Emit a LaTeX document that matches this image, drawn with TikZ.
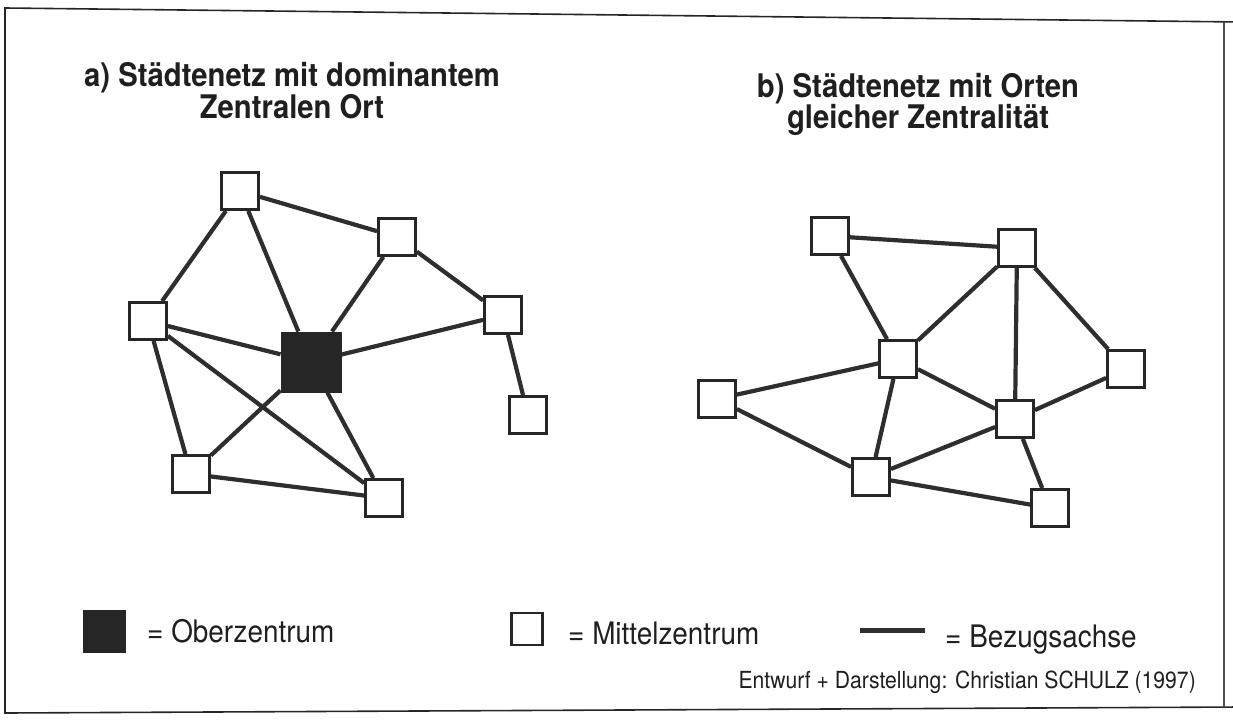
\documentclass[tikz,border=0pt]{standalone}
\usepackage{fontspec}
\setmainfont{TeX Gyre Heros}
\newfontfamily\cond[FakeStretch=0.9]{TeX Gyre Heros}
\begin{document}
\begin{tikzpicture}[x=1pt,y=-1pt,
  ort/.style={draw=black!85,line width=2.8pt,fill=white,minimum size=37pt,inner sep=0pt},
  ober/.style={draw=black!85,line width=1pt,fill=black!85,minimum size=60pt,inner sep=0pt},
  achse/.style={draw=black!82,line width=4.2pt},
  titel/.style={font=\cond\bfseries\fontsize{32.5}{36}\selectfont,anchor=base,text=black!88,inner sep=0pt},
  leg/.style={font=\cond\fontsize{31}{34}\selectfont,anchor=base west,text=black!88,inner sep=0pt}]
\useasboundingbox (0,0) rectangle (1233,720);
% frame
\coordinate (f1) at (5,8);
\coordinate (f2) at (1224,22);
\coordinate (f3) at (1224,707);
\coordinate (f4) at (5,713);
\coordinate (f2e) at (1240,22);
\coordinate (f3e) at (1240,707);
\draw[line width=1.6pt,black!85] (f2e) -- (f1) -- (f4) -- (f3e);
\draw[line width=1.2pt,black!70] (f2) -- (f3);
% titles
\node[titel] (ta1) at (292,86) {a) Städtenetz mit dominantem};
\node[titel] (ta2) at (292,118) {Zentralen Ort};
\node[titel] (tb1) at (918,97) {b) Städtenetz mit Orten};
\node[titel] (tb2) at (918,128) {gleicher Zentralität};
% left network
\node[ort] (a1) at (240,191) {};
\node[ort] (a2) at (397,237) {};
\node[ort] (a3) at (148,321) {};
\node[ober] (c) at (311,362) {};
\node[ort] (a4) at (503,315) {};
\node[ort] (a5) at (528,415) {};
\node[ort] (a6) at (191,474) {};
\node[ort] (a7) at (384,498) {};
\draw[achse] (a1) -- (a2);
\draw[achse] (a1) -- (a3);
\draw[achse] (a1) -- (c);
\draw[achse] (a2) -- (c);
\draw[achse] (a2) -- (a4);
\draw[achse] (a4) -- (c);
\draw[achse] (a4) -- (a5);
\draw[achse] (a3) -- (c);
\draw[achse] (a3) -- (a6);
\draw[achse] (a3) -- (a7);
\draw[achse] (c) -- (a6);
\draw[achse] (c) -- (a7);
\draw[achse] (a6) -- (a7);
% right network
\node[ort] (b1) at (830,236) {};
\node[ort] (b2) at (1017,248) {};
\node[ort] (b3) at (898,359) {};
\node[ort] (b4) at (1126,369) {};
\node[ort] (b5) at (717,399) {};
\node[ort] (b6) at (1015,419) {};
\node[ort] (b7) at (871,477) {};
\node[ort] (b8) at (1050,508) {};
\draw[achse] (b1) -- (b2);
\draw[achse] (b1) -- (b3);
\draw[achse] (b2) -- (b3);
\draw[achse] (b2) -- (b6);
\draw[achse] (b2) -- (b4);
\draw[achse] (b3) -- (b5);
\draw[achse] (b3) -- (b6);
\draw[achse] (b3) -- (b7);
\draw[achse] (b4) -- (b6);
\draw[achse] (b5) -- (b7);
\draw[achse] (b6) -- (b7);
\draw[achse] (b6) -- (b8);
\draw[achse] (b7) -- (b8);
% legend
\node[ober,minimum size=42pt] (lo) at (104,631) {};
\node[leg] (lot) at (147,642) {= Oberzentrum};
\node[ort,minimum width=31pt,minimum height=32pt,line width=2.4pt] (lm) at (527,629) {};
\node[leg] (lmt) at (568,644) {= Mittelzentrum};
\coordinate (la1) at (860,630);
\coordinate (la2) at (925,630);
\draw[achse,line width=5pt] (la1) -- (la2);
\node[leg] (lat) at (945,647) {= Bezugsachse};
\node[font=\cond\fontsize{23.5}{26}\selectfont,anchor=base east,inner sep=0pt,text=black!88] (cr) at (1196,688) {Entwurf + Darstellung: Christian SCHULZ (1997)};
\end{tikzpicture}
\end{document}
